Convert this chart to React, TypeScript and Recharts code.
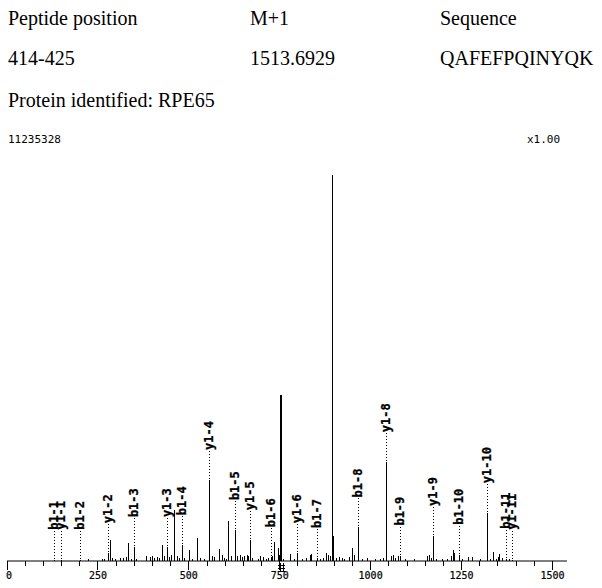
import React from 'react';
import { BarChart, Bar, XAxis, YAxis, ReferenceDot } from 'recharts';

// Annotated fragment ions
const ionNames = ['b1-1', 'y1-1', 'b1-2', 'y1-2', 'b1-3', 'y1-3', 'b1-4', 'y1-4', 'b1-5', 'y1-5', 'b1-6', 'y1-6', 'b1-7', 'y1-7', 'b1-8', 'y1-8', 'b1-9', 'y1-9', 'b1-10', 'y1-10', 'b1-11', 'y1-11'];
const ionMz = [130, 148, 201, 279, 349, 441, 480, 555, 626, 668, 725, 797, 853, 894, 966, 1043, 1081, 1172, 1244, 1319, 1371, 1390];
const ionIntensity = [0.3, 0.3, 0.3, 2.0, 3.6, 3.6, 4.1, 21, 8.0, 5.4, 1.0, 2.0, 0.8, 100, 8.7, 25.6, 1.4, 6.5, 1.6, 12.4, 0.6, 0.3];

// Other (unannotated) peaks
const peakMz = [224, 262, 268, 282, 290, 298, 310, 319, 326, 332, 340, 356, 383, 392, 398, 405, 412, 418, 425, 433, 446, 452, 460, 467, 473, 487, 500, 510, 523, 530, 542, 563, 570, 583, 590, 596, 602, 608, 615, 633, 640, 646, 652, 660, 664, 674, 690, 697, 703, 712, 718, 730, 735, 744, 748, 754, 760, 778, 790, 810, 822, 833, 836, 860, 870, 877, 882, 888, 897, 905, 913, 920, 928, 940, 949, 955, 975, 990, 1012, 1026, 1035, 1055, 1062, 1068, 1076, 1095, 1120, 1154, 1161, 1166, 1180, 1195, 1210, 1222, 1226, 1230, 1250, 1269, 1280, 1300, 1328, 1337, 1344, 1351, 1354, 1362, 1380];
const peakIntensity = [0.4, 0.6, 0.5, 5.4, 0.8, 0.6, 0.7, 0.9, 1.0, 4.6, 0.5, 0.4, 1.4, 1.0, 1.2, 0.8, 1.1, 0.7, 4.1, 1.2, 1.0, 1.6, 13.3, 1.2, 0.9, 0.8, 2.8, 0.5, 6.0, 0.7, 0.6, 1.3, 1.0, 3.1, 1.5, 0.8, 0.6, 10.4, 1.2, 1.3, 1.6, 1.0, 1.3, 1.5, 1.2, 0.8, 0.6, 1.2, 1.0, 0.6, 0.7, 1.2, 4.9, 3.4, 1.5, 43, 0.6, 1.9, 0.6, 0.5, 0.8, 1.5, 1.8, 0.6, 0.8, 2.1, 1.5, 1.2, 6.5, 0.7, 1.0, 0.8, 0.5, 1.0, 3.4, 1.5, 0.5, 0.7, 0.5, 0.6, 0.8, 1.2, 1.6, 0.9, 1.3, 0.5, 0.4, 1.3, 1.5, 0.7, 0.6, 0.5, 0.6, 1.3, 2.8, 2.0, 0.5, 1.0, 1.0, 0.4, 0.6, 2.3, 0.6, 1.0, 1.8, 0.7, 0.5];

const axisTicks = [0, 50, 100, 150, 200, 250, 300, 350, 400, 450, 500, 550, 600, 650, 700, 750, 800, 850, 900, 950, 1000, 1050, 1100, 1150, 1200, 1250, 1300, 1350, 1400, 1450, 1500];
const labeledTicks = [0, 250, 500, 750, 1000, 1250, 1500];
const precursorMz = 754;

const headerRow1 = ['Peptide position', 'M+1', 'Sequence'];
const headerRow2 = ['414-425', '1513.6929', 'QAFEFPQINYQK'];
const proteinLine = 'Protein identified: RPE65';
const baseIntensityText = '11235328';
const scaleText = 'x1.00';

const data = [
  ...ionMz.map((mz, i) => ({ mz, intensity: ionIntensity[i], name: ionNames[i] })),
  ...peakMz.map((mz, i) => ({ mz, intensity: peakIntensity[i], name: '' })),
].sort((a, b) => a.mz - b.mz);

const MONO = '"DejaVu Sans Mono", "Liberation Mono", monospace';
const SERIF = '"Liberation Serif", "Times New Roman", serif';
const LABEL_FONT = 12;
const LABEL_CHAR = LABEL_FONT * 0.602;
const LABEL_MIN_TOP = 143;

function PeakShape(props: any) {
  const { x, y, width, height, payload } = props;
  const big = payload.intensity > 30 && payload.intensity < 60;
  const cx = Math.round(x + width / 2) + (big ? 0 : 0.5);
  const top = y;
  const base = y + height;
  const els: any[] = [];
  els.push(<line key="p" x1={cx} x2={cx} y1={top} y2={base} stroke="#000" strokeWidth={big ? 2 : 1} shapeRendering="crispEdges" />);
  if (payload.name) {
    const len = payload.name.length * LABEL_CHAR;
    const labelBottom = Math.max(top - 30, LABEL_MIN_TOP + len);
    els.push(<line key="d" x1={cx} x2={cx} y1={labelBottom + 1} y2={top} stroke="#000" strokeWidth={1} strokeDasharray="1 2" shapeRendering="crispEdges" />);
    const tx = cx + 4;
    els.push(
      <text key="t" x={tx} y={labelBottom} transform={`rotate(-90 ${tx} ${labelBottom})`} fontFamily={MONO} fontWeight="bold" fontSize={LABEL_FONT} fill="#000" stroke="#000" strokeWidth={0.3}>
        {payload.name}
      </text>
    );
  }
  return <g>{els}</g>;
}

function AxisTick(props: any) {
  const { x, y, payload } = props;
  const v = payload.value;
  const major = labeledTicks.includes(v);
  return (
    <g>
      <line x1={x} x2={x} y1={y} y2={y + (major ? 9 : 5)} stroke="#000" strokeWidth={1} shapeRendering="crispEdges" />
      {major && (
        <text x={x + (v === 0 ? 2 : 0)} y={y + 11} dy="0.71em" textAnchor="middle" fontFamily={MONO} fontSize={10} fill="#000" stroke="#000" strokeWidth={0.2}>
          {String(v)}
        </text>
      )}
    </g>
  );
}

function PrecursorMark(props: any) {
  const { cx, cy } = props;
  const x = Math.round(cx);
  const y = Math.round(cy);
  return (
    <g stroke="#000" strokeWidth={1} shapeRendering="crispEdges">
      <line x1={x - 1} x2={x - 1} y1={y + 2} y2={y + 11} />
      <line x1={x + 2} x2={x + 2} y1={y + 2} y2={y + 11} />
      <line x1={x - 3} x2={x + 4} y1={y + 4} y2={y + 4} />
      <line x1={x - 3} x2={x + 4} y1={y + 7} y2={y + 7} />
      <line x1={x - 3} x2={x + 4} y1={y + 10} y2={y + 10} />
    </g>
  );
}

const textBase: React.CSSProperties = { position: 'absolute', fontFamily: SERIF, fontSize: 20, lineHeight: '20px', color: '#000', whiteSpace: 'nowrap' };

export default function App() {
  return (
    <div style={{ position: 'absolute', left: 0, top: 0, width: 602, height: 588, background: '#fff', overflow: 'hidden' }}>
      <BarChart
        width={602}
        height={588}
        data={data}
        margin={{ top: 175, right: 35, bottom: 0, left: 7 }}
        style={{ position: 'absolute', left: 0, top: 0 }}
      >
        <XAxis
          dataKey="mz"
          type="number"
          domain={[0, 1540]}
          ticks={axisTicks}
          interval={0}
          allowDataOverflow
          tickLine={false}
          tickSize={0}
          tickMargin={0}
          tick={<AxisTick />}
          axisLine={{ stroke: '#000', strokeWidth: 1 }}
          height={27}
        />
        <YAxis hide domain={[0, 100]} allowDataOverflow />
        <Bar dataKey="intensity" isAnimationActive={false} shape={<PeakShape />} barSize={1} />
        <ReferenceDot x={precursorMz} y={0} ifOverflow="visible" shape={<PrecursorMark />} />
      </BarChart>
      <div style={{ ...textBase, left: 8, top: 8 }}>{headerRow1[0]}</div>
      <div style={{ ...textBase, left: 250, top: 8 }}>{headerRow1[1]}</div>
      <div style={{ ...textBase, left: 440, top: 8 }}>{headerRow1[2]}</div>
      <div style={{ ...textBase, left: 8, top: 48 }}>{headerRow2[0]}</div>
      <div style={{ ...textBase, left: 250, top: 48 }}>{headerRow2[1]}</div>
      <div style={{ ...textBase, left: 440, top: 48 }}>{headerRow2[2]}</div>
      <div style={{ ...textBase, left: 8, top: 90 }}>{proteinLine}</div>
      <div style={{ position: 'absolute', left: 8, top: 134, fontFamily: MONO, fontSize: 11, lineHeight: '12px', color: '#000' }}>{baseIntensityText}</div>
      <div style={{ position: 'absolute', left: 527, top: 134, fontFamily: MONO, fontSize: 11, lineHeight: '12px', color: '#000' }}>{scaleText}</div>
    </div>
  );
}
